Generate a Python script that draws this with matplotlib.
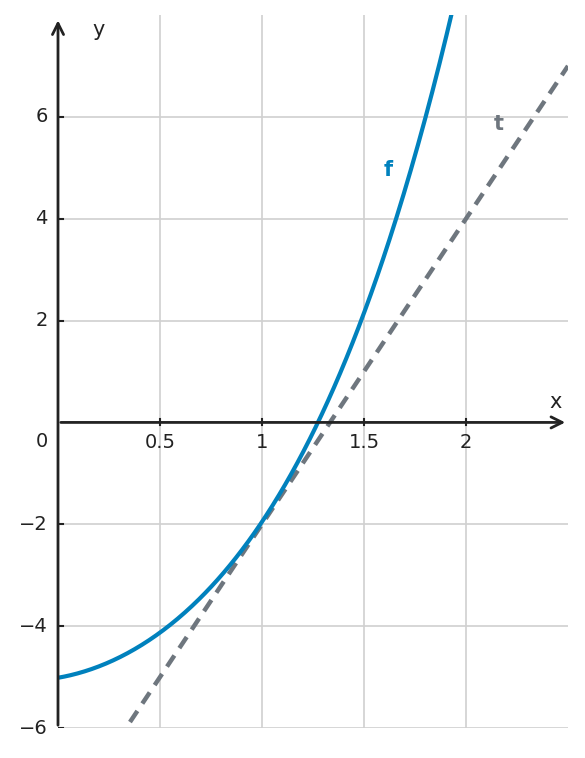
import numpy as np
import matplotlib.pyplot as plt

f_x = [0.0, 0.25, 0.5, 0.75, 1.0, 1.265, 1.5, 1.65, 1.80, 1.93]
f_y = [-5.0, -4.75, -4.1, -3.2, -2.0, 0.0, 2.0, 4.0, 6.0, 8.0]
# tangent t at x=1
t_slope = 6.0
t_point = (1.0, -2.0)

x_ticks = [0.5, 1, 1.5, 2]
x_tick_labels = ["0.5", "1", "1.5", "2"]
y_ticks = [-6, -4, -2, 2, 4, 6]
y_tick_labels = ["\u22126", "\u22124", "\u22122", "2", "4", "6"]

BLUE = "#0081bd"
GRAY = "#6e767e"
AXIS = "#222222"

fig = plt.figure(figsize=(5.85, 7.58), dpi=100)
ax = fig.add_axes([58 / 585, 30 / 758, 510 / 585, 713 / 758])
ax.set_xlim(0, 2.5)
ax.set_ylim(-6, 8.0)

for s in ax.spines.values():
    s.set_visible(False)
ax.set_xticks([])
ax.set_yticks([])

for xt in x_ticks:
    ax.axvline(xt, color="#d0d0d0", lw=1.2, zorder=0)
for yt in y_ticks:
    ax.axhline(yt, color="#d0d0d0", lw=1.2, zorder=0)

coef = np.polyfit(f_x, f_y, 4)
xs = np.linspace(0, 2.0, 400)
ax.plot(xs, np.polyval(coef, xs), color=BLUE, lw=3, zorder=3, clip_on=True)

xt_line = np.array([0, 2.5])
ax.plot(xt_line, t_point[1] + t_slope * (xt_line - t_point[0]),
        color=GRAY, lw=3.2, ls=(0, (3, 2)), zorder=2)

# axes with arrows
ax.annotate("", xy=(2.5, 0), xytext=(0, 0),
            arrowprops=dict(arrowstyle="->", color=AXIS, lw=2, mutation_scale=20),
            annotation_clip=False, zorder=4)
ax.annotate("", xy=(0, 7.95), xytext=(0, -6),
            arrowprops=dict(arrowstyle="->", color=AXIS, lw=2, mutation_scale=20),
            annotation_clip=False, zorder=4)

for xt, lab in zip(x_ticks, x_tick_labels):
    ax.plot([xt, xt], [-0.06, 0.06], color=AXIS, lw=1.5, zorder=4)
    ax.text(xt, -0.2, lab, ha="center", va="top", fontsize=14, color=AXIS)
for yt, lab in zip(y_ticks, y_tick_labels):
    ax.plot([0, 0.025], [yt, yt], color=AXIS, lw=1.5, zorder=4)
    ax.text(-0.05, yt, lab, ha="right", va="center", fontsize=14, color=AXIS)
ax.text(-0.05, -0.38, "0", ha="right", va="center", fontsize=14, color=AXIS)

ax.text(2.44, 0.2, "x", ha="center", va="bottom", fontsize=15, color=AXIS)
ax.text(0.2, 7.7, "y", ha="center", va="center", fontsize=15, color=AXIS)
ax.text(1.62, 4.95, "f", ha="center", va="center", fontsize=15, color=BLUE, fontweight="bold")
ax.text(2.16, 5.85, "t", ha="center", va="center", fontsize=15, color=GRAY, fontweight="bold")

fig.savefig("out.png", dpi=100)
